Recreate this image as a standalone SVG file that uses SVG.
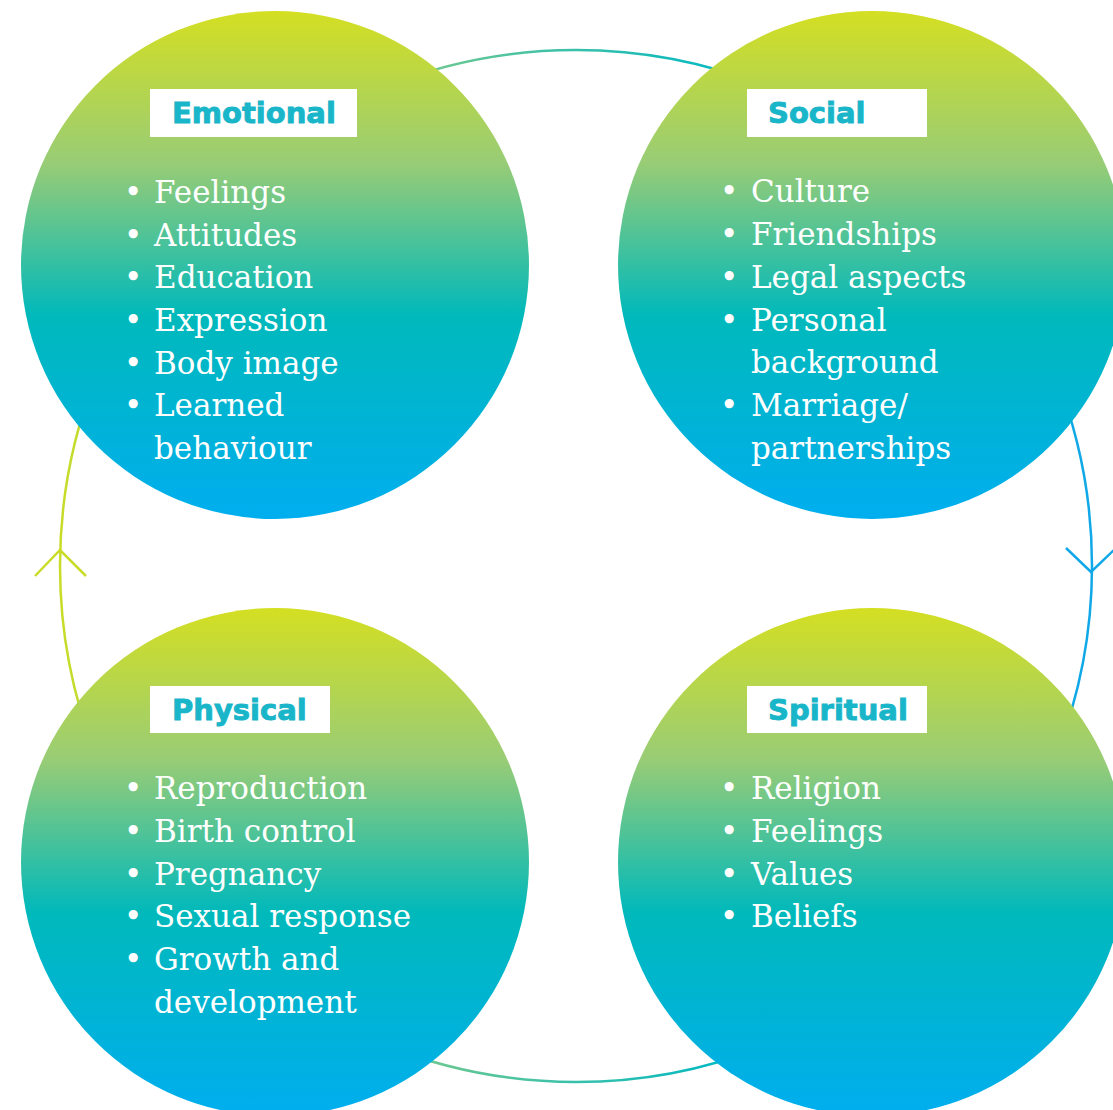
<svg xmlns="http://www.w3.org/2000/svg" width="1113" height="1110" viewBox="0 0 1113 1110">
<defs>
<linearGradient id="cg" x1="0" y1="0" x2="0" y2="1">
<stop offset="0" stop-color="#d4df22"/>
<stop offset="0.3" stop-color="#98cc76"/>
<stop offset="0.6" stop-color="#00b9bb"/>
<stop offset="1" stop-color="#00aeef"/>
</linearGradient>
<linearGradient id="rg" gradientUnits="userSpaceOnUse" x1="60" y1="0" x2="1092" y2="0">
<stop offset="0" stop-color="#c8dc28"/>
<stop offset="0.35" stop-color="#70c890"/>
<stop offset="0.65" stop-color="#00b8c4"/>
<stop offset="1" stop-color="#10a8e8"/>
</linearGradient>
<style>
.circ{fill:url(#cg)}
.hbox{fill:#ffffff}
.htxt{font-family:"DejaVu Sans",sans-serif;font-weight:bold;font-size:29px;fill:#19b5c9;stroke:#19b5c9;stroke-width:0.9}
.item{font-family:"DejaVu Serif","Liberation Serif",serif;font-size:31px;fill:#ffffff}
.ring{fill:none;stroke:url(#rg);stroke-width:2.5}
</style>
</defs>
<rect width="1113" height="1110" fill="#ffffff"/>
<g id="connectors">
<circle class="ring" cx="576" cy="566" r="516"/>
<path d="M35,576 L60,550 L86,576" fill="none" stroke="#c8dc28" stroke-width="2.5"/>
<path d="M1066,548 L1091,572 L1116,548" fill="none" stroke="#10a8e8" stroke-width="2.5"/>
</g>
<g id="emotional">
<circle class="circ" cx="275" cy="265" r="254"/>
<rect class="hbox" x="150" y="89" width="207" height="48"/>
<text class="htxt" x="172" y="123">Emotional</text>
<text class="item" x="124" y="203">• <tspan x="154">Feelings</tspan></text>
<text class="item" x="124" y="246">• <tspan x="154">Attitudes</tspan></text>
<text class="item" x="124" y="288">• <tspan x="154">Education</tspan></text>
<text class="item" x="124" y="331">• <tspan x="154">Expression</tspan></text>
<text class="item" x="124" y="374">• <tspan x="154">Body image</tspan></text>
<text class="item" x="124" y="416">• <tspan x="154">Learned</tspan></text>
<text class="item" x="154" y="459">behaviour</text>
</g>
<g id="social">
<circle class="circ" cx="872" cy="265" r="254"/>
<rect class="hbox" x="747" y="89" width="180" height="48"/>
<text class="htxt" x="768" y="123">Social</text>
<text class="item" x="720" y="202">• <tspan x="751">Culture</tspan></text>
<text class="item" x="720" y="245">• <tspan x="751">Friendships</tspan></text>
<text class="item" x="720" y="288">• <tspan x="751">Legal aspects</tspan></text>
<text class="item" x="720" y="331">• <tspan x="751">Personal</tspan></text>
<text class="item" x="751" y="373">background</text>
<text class="item" x="720" y="416">• <tspan x="751">Marriage/</tspan></text>
<text class="item" x="751" y="459">partnerships</text>
</g>
<g id="physical">
<circle class="circ" cx="275" cy="862" r="254"/>
<rect class="hbox" x="150" y="686" width="180" height="47"/>
<text class="htxt" x="172" y="720">Physical</text>
<text class="item" x="124" y="799">• <tspan x="154">Reproduction</tspan></text>
<text class="item" x="124" y="842">• <tspan x="154">Birth control</tspan></text>
<text class="item" x="124" y="885">• <tspan x="154">Pregnancy</tspan></text>
<text class="item" x="124" y="927">• <tspan x="154">Sexual response</tspan></text>
<text class="item" x="124" y="970">• <tspan x="154">Growth and</tspan></text>
<text class="item" x="154" y="1013">development</text>
</g>
<g id="spiritual">
<circle class="circ" cx="872" cy="862" r="254"/>
<rect class="hbox" x="747" y="686" width="180" height="47"/>
<text class="htxt" x="768" y="720">Spiritual</text>
<text class="item" x="720" y="799">• <tspan x="751">Religion</tspan></text>
<text class="item" x="720" y="842">• <tspan x="751">Feelings</tspan></text>
<text class="item" x="720" y="885">• <tspan x="751">Values</tspan></text>
<text class="item" x="720" y="927">• <tspan x="751">Beliefs</tspan></text>
</g>
</svg>
